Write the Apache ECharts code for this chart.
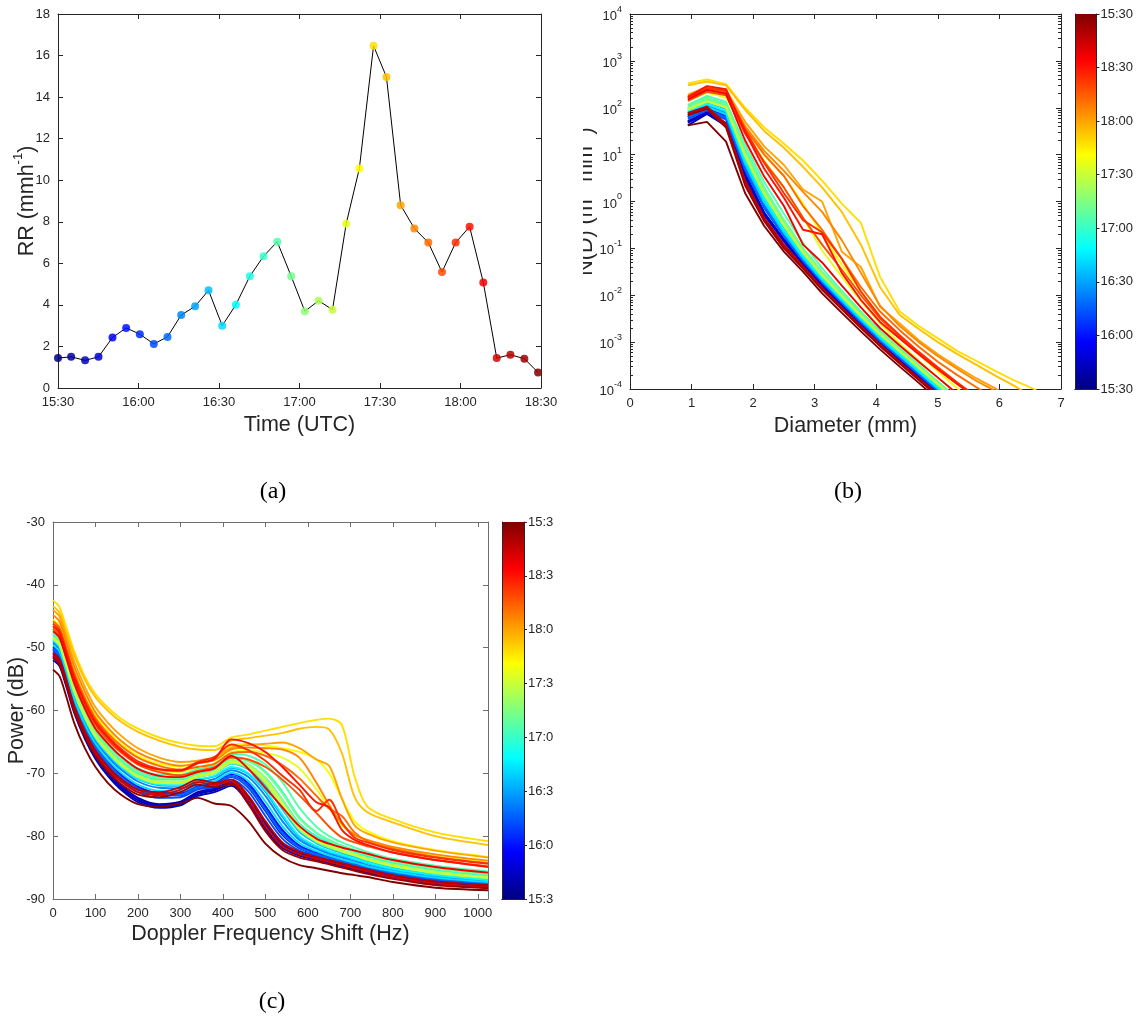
<!DOCTYPE html>
<html><head><meta charset="utf-8">
<script src="https://cdn.jsdelivr.net/npm/echarts@6/dist/echarts.min.js"></script>
<style>html,body{margin:0;padding:0;background:#fff}#chart{width:1136px;height:1019px}</style>
</head><body><div id="chart"></div>
<script>
// ---------- Panel (a): rain rate time series ----------
const rrMinutes = [0, 4.9, 10.1, 15.1, 20.3, 25.4, 30.5, 35.7, 40.8, 45.9, 51.1, 56.1, 61.2, 66.3, 71.5, 76.6, 81.7, 86.9, 92.0, 97.1, 102.3, 107.4, 112.3, 117.6, 122.4, 127.7, 132.8, 138.0, 143.1, 148.2, 153.4, 158.5, 163.5, 168.6, 173.8, 178.9];
const rrValues = [1.44, 1.50, 1.33, 1.50, 2.43, 2.89, 2.59, 2.12, 2.46, 3.51, 3.93, 4.70, 3.00, 4.01, 5.38, 6.34, 7.04, 5.38, 3.69, 4.20, 3.77, 7.91, 10.56, 16.47, 14.97, 8.80, 7.68, 7.00, 5.58, 7.00, 7.76, 5.08, 1.44, 1.60, 1.41, 0.75];
const timeTickLabels = ['15:30', '16:00', '16:30', '17:00', '17:30', '18:00', '18:30'];
const colorbarLabelsB = ['15:30', '16:00', '16:30', '17:00', '17:30', '18:00', '18:30', '15:30'];
const colorbarLabelsC = ['15:3', '16:0', '16:3', '17:0', '17:3', '18:0', '18:3', '15:3'];
const logTickExponents = [-4, -3, -2, -1, 0, 1, 2, 3, 4];

// ---------- Panel (b): drop size distributions N(D) ----------
const diameters = [0.94, 1.25, 1.56, 1.87, 2.18, 2.5, 2.81, 3.12, 3.44, 3.75, 4.06, 4.38, 4.69, 5.0, 5.31, 5.62, 5.94, 6.25, 6.56, 6.88];
const nd00 = [48, 78, 44, 3.6, 0.55, 0.15, 0.046, 0.016, 0.0062, 0.0024, 0.00098, 4.2e-4, 1.85e-4, 8.5e-5];
const nd01 = [52, 82, 47, 3.9, 0.58, 0.155, 0.048, 0.017, 0.0064, 0.0025, 0.001, 4.3e-4, 1.9e-4, 8.8e-5];
const nd02 = [42, 74, 41, 3.3, 0.52, 0.14, 0.044, 0.0155, 0.006, 0.0023, 9.4e-4, 4e-4, 1.8e-4, 8.2e-5];
const nd03 = [50, 80, 46, 3.8, 0.57, 0.15, 0.047, 0.0165, 0.0063, 0.0024, 0.001, 4.2e-4, 1.9e-4, 8.6e-5];
const nd04 = [62, 92, 60, 5.0, 0.78, 0.19, 0.056, 0.019, 0.007, 0.0027, 0.0011, 4.7e-4, 2.05e-4, 9.2e-5];
const nd05 = [68, 98, 66, 5.8, 0.86, 0.2, 0.059, 0.02, 0.0073, 0.0028, 0.00114, 4.9e-4, 2.15e-4, 9.6e-5];
const nd06 = [65, 95, 62, 5.3, 0.8, 0.195, 0.057, 0.0195, 0.0071, 0.0027, 0.0011, 4.8e-4, 2.1e-4, 9.4e-5];
const nd07 = [58, 88, 56, 4.6, 0.72, 0.18, 0.053, 0.0185, 0.0068, 0.0026, 0.00106, 4.6e-4, 2e-4, 9e-5];
const nd08 = [63, 93, 61, 5.1, 0.79, 0.19, 0.056, 0.019, 0.007, 0.0027, 0.0011, 4.7e-4, 2.08e-4, 9.3e-5];
const nd09 = [78, 112, 78, 7.0, 1.05, 0.23, 0.066, 0.022, 0.008, 0.0031, 0.00126, 5.4e-4, 2.35e-4, 1.04e-4, 4.6e-5];
const nd10 = [82, 118, 83, 7.6, 1.12, 0.245, 0.069, 0.023, 0.0083, 0.0032, 0.0013, 5.6e-4, 2.45e-4, 1.08e-4, 4.8e-5];
const nd11 = [92, 132, 95, 9.0, 1.35, 0.28, 0.076, 0.025, 0.009, 0.0034, 0.00138, 6e-4, 2.6e-4, 1.15e-4, 5e-5];
const nd12 = [72, 105, 72, 6.3, 0.95, 0.215, 0.062, 0.021, 0.0077, 0.003, 0.0012, 5.2e-4, 2.3e-4, 1.02e-4, 4.5e-5];
const nd13 = [84, 120, 85, 7.8, 1.15, 0.25, 0.07, 0.0235, 0.0085, 0.0033, 0.00133, 5.7e-4, 2.5e-4, 1.1e-4, 4.9e-5];
const nd14 = [100, 150, 110, 11, 1.7, 0.34, 0.088, 0.028, 0.01, 0.0038, 0.00152, 6.6e-4, 2.9e-4, 1.28e-4, 5.6e-5];
const nd15 = [108, 165, 122, 13, 2.0, 0.4, 0.1, 0.031, 0.011, 0.0041, 0.00163, 7e-4, 3.1e-4, 1.36e-4, 6e-5];
const nd16 = [115, 180, 135, 16, 2.6, 0.55, 0.13, 0.038, 0.0125, 0.0045, 0.00175, 7.4e-4, 3.3e-4, 1.45e-4, 6.4e-5];
const nd17 = [105, 160, 120, 12, 1.9, 0.4, 0.1, 0.031, 0.011, 0.0041, 0.00165, 7.1e-4, 3.15e-4, 1.4e-4, 6.2e-5];
const nd18 = [90, 135, 100, 9, 1.4, 0.3, 0.08, 0.026, 0.0094, 0.0036, 0.00145, 6.3e-4, 2.8e-4, 1.24e-4, 5.5e-5];
const nd19 = [96, 142, 105, 10, 1.55, 0.33, 0.086, 0.0275, 0.0099, 0.0037, 0.0015, 6.5e-4, 2.9e-4, 1.28e-4, 5.7e-5];
const nd20 = [92, 138, 102, 9.5, 1.45, 0.31, 0.082, 0.0265, 0.0096, 0.0036, 0.00147, 6.4e-4, 2.85e-4, 1.26e-4, 5.6e-5];
const nd21 = [140, 210, 165, 30, 7.5, 2.0, 0.45, 0.09, 0.025, 0.0075, 0.0025, 9.5e-4, 4e-4, 1.75e-4, 7.8e-5];
const nd22 = [170, 240, 200, 40, 10, 3.5, 0.9, 0.2, 0.045, 0.012, 0.0035, 0.0013, 5.5e-4, 2.4e-4, 1.05e-4, 4.6e-5];
const nd23 = [330, 400, 320, 100, 38, 17, 7.5, 2.8, 0.9, 0.35, 0.025, 0.0045, 0.0022, 0.0012, 6.5e-4, 4e-4, 2.4e-4, 1.5e-4, 1.0e-4, 5e-5];
const nd24 = [300, 360, 300, 90, 32, 14, 5.5, 2.0, 0.6, 0.12, 0.015, 0.0038, 0.0019, 0.001, 5.6e-4, 3.3e-4, 1.9e-4, 1.15e-4, 6.5e-5];
const nd25 = [190, 280, 240, 50, 15, 6, 1.8, 1.0, 0.085, 0.04, 0.0057, 0.0025, 0.0011, 5.5e-4, 3e-4, 1.7e-4, 1.02e-4, 5.5e-5];
const nd26 = [175, 265, 225, 40, 12, 4.5, 1.6, 0.6, 0.15, 0.03, 0.006, 0.0022, 0.001, 5e-4, 2.7e-4, 1.5e-4, 9e-5];
const nd27 = [165, 255, 215, 36, 10, 3.5, 0.8, 0.25, 0.06, 0.015, 0.0045, 0.0018, 8e-4, 3.8e-4, 2e-4, 1.1e-4, 6e-5];
const nd28 = [140, 220, 185, 28, 7, 2.0, 0.45, 0.12, 0.035, 0.01, 0.0032, 0.0013, 5.8e-4, 2.7e-4, 1.3e-4, 6.5e-5];
const nd29 = [160, 260, 230, 34, 6.6, 1.5, 0.4, 0.22, 0.06, 0.012, 0.0035, 0.0014, 6.2e-4, 2.9e-4, 1.4e-4, 7e-5];
const nd30 = [170, 290, 250, 30, 5, 1.2, 0.25, 0.2, 0.03, 0.008, 0.0027, 0.0012, 5.5e-4, 2.6e-4, 1.3e-4, 6.5e-5];
const nd31 = [150, 240, 200, 20, 3.4, 0.8, 0.12, 0.05, 0.016, 0.0055, 0.002, 8.5e-4, 3.8e-4, 1.75e-4, 8e-5];
const nd32 = [75, 100, 42, 2.6, 0.42, 0.11, 0.04, 0.014, 0.0053, 0.0021, 8.6e-4, 3.7e-4, 1.65e-4, 7.5e-5];
const nd33 = [78, 105, 45, 2.8, 0.45, 0.12, 0.042, 0.0145, 0.0055, 0.0022, 9e-4, 3.8e-4, 1.7e-4, 7.8e-5];
const nd34 = [70, 95, 38, 2.2, 0.38, 0.1, 0.037, 0.013, 0.005, 0.002, 8.2e-4, 3.5e-4, 1.55e-4, 7e-5];
const nd35 = [42, 50, 19, 1.5, 0.3, 0.085, 0.032, 0.011, 0.0042, 0.0017, 7e-4, 3e-4, 1.35e-4, 6e-5];

// ---------- Panel (c): Doppler spectra (dB) ----------
const dopplerFreqs = [0, 15, 30, 50, 75, 100, 130, 160, 200, 250, 300, 340, 380, 420, 460, 500, 540, 580, 620, 650, 680, 710, 740, 800, 900, 1024];
const freqTickLabels = ['0', '100', '200', '300', '400', '500', '600', '700', '800', '900', '1000'];
const pw00 = [-51.5, -52.4, -55.4, -60.0, -64.1, -67.3, -70.1, -72.3, -74.3, -75.3, -74.9, -73.3, -72.7, -71.7, -74.3, -78.6, -81.6, -82.9, -83.6, -84.1, -84.6, -85.1, -85.6, -86.4, -87.4, -88.0];
const pw01 = [-51.0, -52.0, -55.0, -59.6, -63.7, -66.9, -69.7, -71.9, -73.9, -74.9, -74.5, -73.0, -72.4, -71.4, -73.8, -78.0, -81.2, -82.6, -83.3, -83.8, -84.3, -84.8, -85.3, -86.1, -87.1, -87.8];
const pw02 = [-52.0, -52.9, -55.9, -60.4, -64.5, -67.7, -70.5, -72.6, -74.6, -75.5, -75.1, -73.6, -73.0, -72.0, -74.8, -79.0, -81.9, -83.1, -83.8, -84.3, -84.8, -85.3, -85.8, -86.6, -87.6, -88.2];
const pw03 = [-51.3, -52.2, -55.2, -59.8, -63.9, -67.1, -69.9, -72.1, -74.1, -75.1, -74.7, -73.2, -72.5, -71.5, -74.0, -78.3, -81.4, -82.7, -83.4, -83.9, -84.4, -84.9, -85.4, -86.2, -87.2, -87.9];
const pw04 = [-50.3, -51.3, -54.3, -58.9, -62.9, -66.0, -68.6, -70.7, -72.6, -73.5, -73.5, -72.4, -72.0, -70.6, -72.3, -76.0, -79.8, -81.9, -82.9, -83.5, -84.0, -84.5, -85.1, -85.9, -86.9, -87.6];
const pw05 = [-49.8, -50.8, -53.8, -58.4, -62.4, -65.5, -68.1, -70.2, -72.1, -73.1, -73.1, -72.0, -71.5, -70.1, -71.6, -75.2, -79.0, -81.5, -82.6, -83.2, -83.8, -84.3, -84.9, -85.7, -86.7, -87.4];
const pw06 = [-50.1, -51.1, -54.1, -58.7, -62.7, -65.8, -68.4, -70.5, -72.4, -73.3, -73.3, -72.2, -71.8, -70.4, -72.0, -75.6, -79.4, -81.7, -82.8, -83.4, -83.9, -84.4, -85.0, -85.8, -86.8, -87.5];
const pw07 = [-50.6, -51.6, -54.6, -59.2, -63.2, -66.4, -69.0, -71.1, -73.0, -73.9, -73.8, -72.6, -72.2, -71.0, -72.9, -76.8, -80.4, -82.3, -83.1, -83.7, -84.2, -84.7, -85.3, -86.0, -87.0, -87.7];
const pw08 = [-50.2, -51.2, -54.2, -58.8, -62.8, -65.9, -68.5, -70.6, -72.5, -73.4, -73.4, -72.3, -71.9, -70.5, -72.2, -75.8, -79.6, -81.8, -82.9, -83.5, -84.0, -84.5, -85.0, -85.8, -86.8, -87.5];
const pw09 = [-49.2, -50.2, -53.2, -57.8, -61.8, -64.9, -67.4, -69.4, -71.3, -72.3, -72.4, -71.5, -70.9, -69.5, -70.6, -73.6, -77.6, -80.6, -82.0, -82.8, -83.4, -84.0, -84.6, -85.5, -86.5, -87.2];
const pw10 = [-48.9, -49.9, -52.9, -57.4, -61.4, -64.5, -67.0, -69.0, -70.9, -71.9, -72.0, -71.1, -70.5, -69.1, -70.1, -72.9, -76.9, -80.2, -81.7, -82.5, -83.1, -83.7, -84.3, -85.3, -86.3, -87.0];
const pw11 = [-48.4, -49.4, -52.4, -56.9, -60.9, -64.0, -66.5, -68.5, -70.4, -71.4, -71.5, -70.6, -70.0, -68.5, -69.4, -71.9, -75.7, -79.3, -81.1, -82.0, -82.7, -83.3, -84.0, -85.0, -86.0, -86.8];
const pw12 = [-49.6, -50.6, -53.6, -58.2, -62.2, -65.3, -67.9, -69.9, -71.8, -72.8, -72.9, -71.8, -71.3, -69.9, -71.2, -74.5, -78.4, -81.1, -82.4, -83.1, -83.7, -84.2, -84.8, -85.6, -86.6, -87.3];
const pw13 = [-48.8, -49.8, -52.8, -57.3, -61.3, -64.4, -66.9, -68.9, -70.8, -71.8, -71.9, -71.0, -70.4, -69.0, -70.0, -72.7, -76.6, -80.0, -81.6, -82.4, -83.0, -83.6, -84.2, -85.2, -86.2, -87.0];
const pw14 = [-48.0, -49.0, -52.0, -56.5, -60.5, -63.6, -66.1, -68.1, -70.0, -71.0, -71.0, -70.1, -69.5, -67.9, -68.6, -70.7, -74.2, -78.0, -80.0, -81.0, -81.8, -82.5, -83.2, -84.3, -85.4, -86.3];
const pw15 = [-47.6, -48.6, -51.6, -56.1, -60.1, -63.2, -65.7, -67.7, -69.6, -70.6, -70.6, -69.7, -69.1, -67.4, -67.9, -69.7, -72.9, -77.0, -79.4, -80.6, -81.5, -82.2, -82.9, -84.0, -85.1, -86.0];
const pw16 = [-47.2, -48.2, -51.2, -55.7, -59.7, -62.8, -65.3, -67.3, -69.2, -70.2, -70.2, -69.3, -68.7, -66.9, -67.2, -68.6, -71.4, -75.5, -78.5, -80.0, -81.0, -81.8, -82.5, -83.6, -84.7, -85.6];
const pw17 = [-47.8, -48.8, -51.8, -56.3, -60.3, -63.4, -65.9, -67.9, -69.8, -70.8, -70.8, -69.9, -69.3, -67.6, -68.1, -69.9, -73.2, -77.2, -79.5, -80.7, -81.6, -82.3, -83.0, -84.1, -85.2, -86.1];
const pw18 = [-48.6, -49.6, -52.6, -57.1, -61.1, -64.2, -66.7, -68.7, -70.6, -71.6, -71.6, -70.6, -70.0, -68.4, -69.2, -71.6, -75.4, -79.0, -80.9, -81.8, -82.5, -83.1, -83.8, -84.8, -85.9, -86.7];
const pw19 = [-48.3, -49.3, -52.3, -56.8, -60.8, -63.9, -66.4, -68.4, -70.3, -71.3, -71.3, -70.3, -69.7, -68.0, -68.7, -70.8, -74.4, -78.3, -80.4, -81.4, -82.2, -82.8, -83.5, -84.5, -85.6, -86.5];
const pw20 = [-48.5, -49.5, -52.5, -57.0, -61.0, -64.1, -66.6, -68.6, -70.5, -71.5, -71.5, -70.5, -69.9, -68.2, -69.0, -71.3, -75.0, -78.7, -80.7, -81.6, -82.4, -83.0, -83.7, -84.7, -85.8, -86.6];
const pw21 = [-46.5, -47.5, -50.5, -55.0, -59.0, -62.0, -64.5, -66.5, -68.4, -69.6, -69.8, -69.0, -68.4, -66.6, -66.4, -66.7, -67.5, -69.2, -72.5, -75.5, -78.3, -79.8, -80.7, -81.9, -83.1, -84.1];
const pw22 = [-45.5, -46.5, -49.5, -53.8, -57.8, -60.8, -63.3, -65.3, -67.2, -68.5, -68.9, -68.4, -67.8, -65.6, -65.3, -65.6, -66.0, -66.6, -67.8, -70.0, -74.0, -77.6, -79.2, -80.8, -82.2, -83.3];
const pw23 = [-42.5, -43.5, -46.5, -50.6, -54.6, -57.4, -59.6, -61.3, -62.9, -64.3, -65.2, -65.6, -65.7, -64.3, -63.8, -63.2, -62.6, -62.0, -61.5, -61.3, -62.3, -70.5, -75.3, -77.3, -79.4, -80.8];
const pw24 = [-43.4, -44.4, -47.3, -51.2, -55.1, -57.9, -60.1, -61.8, -63.4, -64.8, -65.8, -66.2, -66.3, -64.8, -64.4, -64.0, -63.6, -62.9, -62.6, -63.0, -66.8, -73.8, -76.2, -77.8, -80.0, -81.4];
const pw25 = [-44.0, -45.0, -48.0, -52.2, -56.2, -59.5, -62.0, -64.0, -66.0, -67.5, -68.2, -68.0, -67.4, -65.9, -65.5, -65.3, -65.1, -66.0, -67.8, -68.8, -74.0, -78.3, -79.6, -81.0, -82.3, -83.4];
const pw26 = [-44.8, -45.8, -48.8, -53.0, -57.0, -60.3, -62.8, -64.8, -66.7, -68.1, -68.8, -68.4, -67.9, -66.2, -65.9, -66.0, -66.2, -67.5, -71.5, -75.0, -78.0, -79.8, -80.6, -81.7, -82.9, -83.9];
const pw27 = [-45.8, -46.8, -49.8, -54.0, -58.0, -61.2, -63.7, -65.6, -67.5, -68.8, -69.4, -69.0, -68.5, -66.8, -66.6, -67.2, -68.7, -70.8, -73.6, -75.6, -76.8, -79.4, -80.8, -82.0, -83.3, -84.3];
const pw28 = [-47.0, -48.0, -51.0, -55.3, -59.3, -62.3, -64.8, -66.7, -68.6, -69.8, -70.3, -69.6, -69.0, -67.5, -67.8, -69.0, -71.0, -73.5, -76.3, -78.5, -80.2, -81.0, -81.6, -82.6, -83.8, -84.8];
const pw29 = [-46.2, -47.2, -50.2, -54.5, -58.5, -61.6, -64.1, -66.1, -68.1, -69.3, -69.5, -68.2, -67.4, -65.4, -66.3, -68.0, -70.4, -72.6, -76.0, -74.2, -77.8, -80.2, -81.0, -82.2, -83.4, -84.4];
const pw30 = [-46.6, -47.6, -50.6, -54.8, -58.8, -62.0, -64.4, -66.4, -68.4, -69.4, -69.6, -68.4, -67.7, -64.6, -65.2, -66.6, -69.0, -71.8, -74.6, -75.4, -79.0, -80.6, -81.4, -82.6, -83.8, -84.9];
const pw31 = [-47.4, -48.4, -51.4, -55.7, -59.7, -62.9, -65.3, -67.3, -69.3, -70.4, -70.6, -69.8, -69.2, -67.2, -69.3, -72.3, -75.4, -78.4, -80.4, -81.2, -81.8, -82.3, -82.8, -83.8, -84.9, -85.8];
const pw32 = [-51.2, -52.2, -55.2, -59.7, -63.7, -66.8, -69.4, -71.3, -73.0, -73.4, -72.6, -71.4, -71.8, -71.3, -74.2, -78.4, -81.6, -82.9, -83.6, -84.1, -84.6, -85.1, -85.6, -86.5, -87.5, -88.1];
const pw33 = [-50.8, -51.8, -54.8, -59.3, -63.3, -66.4, -69.0, -70.9, -72.6, -73.0, -72.2, -71.0, -71.5, -71.0, -73.6, -77.6, -81.0, -82.5, -83.3, -83.8, -84.3, -84.8, -85.3, -86.2, -87.2, -87.8];
const pw34 = [-51.6, -52.6, -55.6, -60.1, -64.1, -67.2, -69.8, -71.7, -73.4, -73.8, -73.0, -71.8, -72.2, -71.7, -74.9, -79.2, -82.2, -83.4, -84.0, -84.5, -85.0, -85.5, -86.0, -86.8, -87.8, -88.3];
const pw35 = [-53.5, -54.5, -57.5, -62.0, -66.0, -69.0, -71.6, -73.4, -74.9, -75.3, -74.8, -73.9, -74.8, -75.2, -77.6, -81.2, -83.4, -84.6, -85.1, -85.5, -85.9, -86.2, -86.5, -87.3, -88.2, -88.6];

const ndRows = [nd00, nd01, nd02, nd03, nd04, nd05, nd06, nd07, nd08, nd09, nd10, nd11, nd12, nd13, nd14, nd15, nd16, nd17, nd18, nd19, nd20, nd21, nd22, nd23, nd24, nd25, nd26, nd27, nd28, nd29, nd30, nd31, nd32, nd33, nd34, nd35];
const pwRows = [pw00, pw01, pw02, pw03, pw04, pw05, pw06, pw07, pw08, pw09, pw10, pw11, pw12, pw13, pw14, pw15, pw16, pw17, pw18, pw19, pw20, pw21, pw22, pw23, pw24, pw25, pw26, pw27, pw28, pw29, pw30, pw31, pw32, pw33, pw34, pw35];

// ---------- helpers ----------
function clamp01(x) { return Math.max(0, Math.min(1, x)); }
function jet(t) {
  const r = clamp01(1.5 - Math.abs(4 * t - 3));
  const g = clamp01(1.5 - Math.abs(4 * t - 2));
  const b = clamp01(1.5 - Math.abs(4 * t - 1));
  return 'rgb(' + Math.round(r * 255) + ',' + Math.round(g * 255) + ',' + Math.round(b * 255) + ')';
}
const N = rrValues.length;
const FONT = '"Liberation Sans", Arial, sans-serif';
const AX = '#262626';
const AXC = '#6e6e6e';
const TITLE = 21.5;

function boxAxis(o, color, showLabel) {
  return Object.assign({
    type: 'value', splitLine: { show: false },
    axisLine: { show: true, onZero: false, lineStyle: { color: color, width: 1 } },
    axisTick: { show: true, inside: true, length: 5, lineStyle: { color: color } },
    axisLabel: { show: showLabel, color: AX, fontSize: 13, fontFamily: FONT, margin: 8 },
    nameTextStyle: { color: AX, fontSize: TITLE, fontFamily: FONT }
  }, o);
}

// minor log ticks in exponent space
const minorExp = [];
for (let e = -4; e < 4; e++) for (let k = 2; k <= 9; k++) minorExp.push(e + Math.log10(k));

const jetStops = [0, 0.125, 0.375, 0.625, 0.875, 1].map(o => ({ offset: o, color: jet(o) }));
const cbFill = { type: 'linear', x: 0, y: 1, x2: 0, y2: 0, colorStops: jetStops };

const supRich = (size, bigLH) => ({
  n: { fontSize: size, fontFamily: FONT, color: AX, lineHeight: bigLH, verticalAlign: 'bottom' },
  s: { fontSize: Math.round(size * 0.62), fontFamily: FONT, color: AX, lineHeight: Math.round(size * 0.62), verticalAlign: 'top' }
});

const xAxes = [
  boxAxis({ gridIndex: 0, min: 0, max: 180, interval: 30, position: 'bottom',
    axisLabel: { show: true, color: AX, fontSize: 13, fontFamily: FONT, margin: 8, formatter: v => timeTickLabels[Math.round(v / 30)] },
    name: 'Time (UTC)', nameLocation: 'middle', nameGap: 26 }, AX, true),
  boxAxis({ gridIndex: 0, min: 0, max: 180, interval: 30, position: 'top' }, AX, false),
  boxAxis({ gridIndex: 1, min: 0, max: 7, interval: 1, position: 'bottom',
    name: 'Diameter (mm)', nameLocation: 'middle', nameGap: 26 }, AX, true),
  boxAxis({ gridIndex: 1, min: 0, max: 7, interval: 1, position: 'top' }, AX, false),
  boxAxis({ gridIndex: 2, min: 0, max: 1024, interval: 100, position: 'bottom',
    axisLabel: { show: true, color: AX, fontSize: 13, fontFamily: FONT, margin: 8, showMaxLabel: false,
      formatter: v => freqTickLabels[Math.round(v / 100)] || '' },
    name: 'Doppler Frequency Shift (Hz)', nameLocation: 'middle', nameGap: 24 }, AXC, true),
  boxAxis({ gridIndex: 2, min: 0, max: 1024, interval: 100, position: 'top' }, AXC, false),
  { gridIndex: 3, type: 'category', data: ['c'], position: 'bottom', z: 10, axisLine: { show: true, lineStyle: { color: AX } }, axisTick: { show: false }, axisLabel: { show: false } },
  { gridIndex: 3, type: 'category', data: ['c'], position: 'top', z: 10, axisLine: { show: true, lineStyle: { color: AX } }, axisTick: { show: false }, axisLabel: { show: false } },
  { gridIndex: 4, type: 'category', data: ['c'], position: 'bottom', z: 10, axisLine: { show: true, lineStyle: { color: AX } }, axisTick: { show: false }, axisLabel: { show: false } },
  { gridIndex: 4, type: 'category', data: ['c'], position: 'top', z: 10, axisLine: { show: true, lineStyle: { color: AX } }, axisTick: { show: false }, axisLabel: { show: false } }
];

const yAxes = [
  boxAxis({ gridIndex: 0, min: 0, max: 18, interval: 2, position: 'left',
    name: '{n|RR (mmh}{s|-1}{n|)}', nameLocation: 'middle', nameGap: 20, nameMoveOverlap: false,
    nameTextStyle: { rich: supRich(TITLE, 26) } }, AX, true),
  boxAxis({ gridIndex: 0, min: 0, max: 18, interval: 2, position: 'right' }, AX, false),
  // (b) data log axis
  { gridIndex: 1, type: 'log', logBase: 10, min: 1e-4, max: 1e4, position: 'left',
    axisLine: { show: true, onZero: false, lineStyle: { color: AX } }, axisTick: { show: false }, axisLabel: { show: false }, splitLine: { show: false },
    name: '{n|N(D) (m}{s|-3}{n| mm}{s|-1}{n|)}', nameLocation: 'middle', nameGap: 33,
    nameTextStyle: { rich: supRich(TITLE, 26) } },
  // (b) major ticks/labels in exponent space
  boxAxis({ gridIndex: 1, min: -4, max: 4, interval: 1, position: 'left',
    axisLine: { show: false },
    axisLabel: { show: true, margin: 8, formatter: v => '{b|10}{s|' + logTickExponents[v + 4] + '}',
      rich: { b: { fontSize: 13, fontFamily: FONT, color: AX, lineHeight: 18, verticalAlign: 'bottom' },
              s: { fontSize: 9, fontFamily: FONT, color: AX, lineHeight: 9, verticalAlign: 'top' } } } }, AX, true),
  boxAxis({ gridIndex: 1, min: -4, max: 4, position: 'left', axisLine: { show: false },
    axisTick: { show: true, inside: true, length: 3, customValues: minorExp, lineStyle: { color: AX } } }, AX, false),
  boxAxis({ gridIndex: 1, min: -4, max: 4, interval: 1, position: 'right' }, AX, false),
  boxAxis({ gridIndex: 1, min: -4, max: 4, position: 'right', axisLine: { show: false },
    axisTick: { show: true, inside: true, length: 3, customValues: minorExp, lineStyle: { color: AX } } }, AX, false),
  // (c)
  boxAxis({ gridIndex: 2, min: -90, max: -30, interval: 10, position: 'left',
    name: 'Power (dB)', nameLocation: 'middle', nameGap: 25, nameMoveOverlap: false }, AXC, true),
  boxAxis({ gridIndex: 2, min: -90, max: -30, interval: 10, position: 'right' }, AXC, false),
  // colorbars
  boxAxis({ gridIndex: 3, min: 0, max: 7, interval: 1, position: 'right', z: 10,
    axisTick: { show: true, inside: false, length: 3, lineStyle: { color: AX } },
    axisLabel: { show: true, color: AX, fontSize: 13, fontFamily: FONT, margin: 4, formatter: v => colorbarLabelsB[v] } }, AX, true),
  boxAxis({ gridIndex: 3, min: 0, max: 7, position: 'left', z: 10, axisTick: { show: false } }, AX, false),
  boxAxis({ gridIndex: 4, min: 0, max: 7, interval: 1, position: 'right', z: 10,
    axisTick: { show: true, inside: false, length: 3, lineStyle: { color: AX } },
    axisLabel: { show: true, color: AX, fontSize: 13, fontFamily: FONT, margin: 4, formatter: v => colorbarLabelsC[v] } }, AX, true),
  boxAxis({ gridIndex: 4, min: 0, max: 7, position: 'left', z: 10, axisTick: { show: false } }, AX, false)
];

const series = [];
series.push({
  type: 'line', xAxisIndex: 0, yAxisIndex: 0, silent: true,
  lineStyle: { color: '#000', width: 1 }, symbol: 'circle', symbolSize: 8, z: 3,
  data: rrValues.map((v, i) => ({ value: [rrMinutes[i], v], itemStyle: { color: jet(i / (N - 1)), opacity: 0.85 } }))
});
ndRows.forEach((row, i) => {
  series.push({
    type: 'line', xAxisIndex: 2, yAxisIndex: 2, silent: true, showSymbol: false, clip: true,
    lineStyle: { color: jet(i / (N - 1)), width: 1.9 },
    data: row.map((v, k) => [diameters[k], v])
  });
});
pwRows.forEach((row, i) => {
  series.push({
    type: 'line', xAxisIndex: 4, yAxisIndex: 7, silent: true, showSymbol: false, clip: true,
    smooth: 0.3,
    lineStyle: { color: jet(i / (N - 1)), width: 1.9 },
    data: row.map((v, k) => [dopplerFreqs[k], v])
  });
});
series.push({ type: 'bar', xAxisIndex: 6, yAxisIndex: 9, silent: true, barWidth: '100%', data: [7], itemStyle: { color: cbFill } });
series.push({ type: 'bar', xAxisIndex: 8, yAxisIndex: 11, silent: true, barWidth: '100%', data: [7], itemStyle: { color: cbFill } });

const option = {
  animation: false,
  backgroundColor: '#fff',
  grid: [
    { left: 58, top: 14, width: 483, height: 374 },
    { left: 630, top: 14, width: 431, height: 375 },
    { left: 53, top: 522, width: 435, height: 377 },
    { left: 1075, top: 14, width: 22, height: 375 },
    { left: 502, top: 522, width: 22, height: 377 }
  ],
  xAxis: xAxes,
  yAxis: yAxes,
  series: series,
  graphic: [
    { type: 'rect', z: 100, shape: { x: 556, y: 80, width: 27, height: 260 }, style: { fill: '#fff' } },
    { type: 'text', x: 273, y: 492, z: 100, style: { text: '(a)', font: '24px "Liberation Serif", "DejaVu Serif", serif', fill: '#000', textAlign: 'center', textVerticalAlign: 'middle' } },
    { type: 'text', x: 848, y: 492, z: 100, style: { text: '(b)', font: '24px "Liberation Serif", "DejaVu Serif", serif', fill: '#000', textAlign: 'center', textVerticalAlign: 'middle' } },
    { type: 'text', x: 272, y: 1002, z: 100, style: { text: '(c)', font: '24px "Liberation Serif", "DejaVu Serif", serif', fill: '#000', textAlign: 'center', textVerticalAlign: 'middle' } }
  ]
};
const chart = echarts.init(document.getElementById('chart'), null, { renderer: 'canvas' });
chart.setOption(option);
</script></body></html>
